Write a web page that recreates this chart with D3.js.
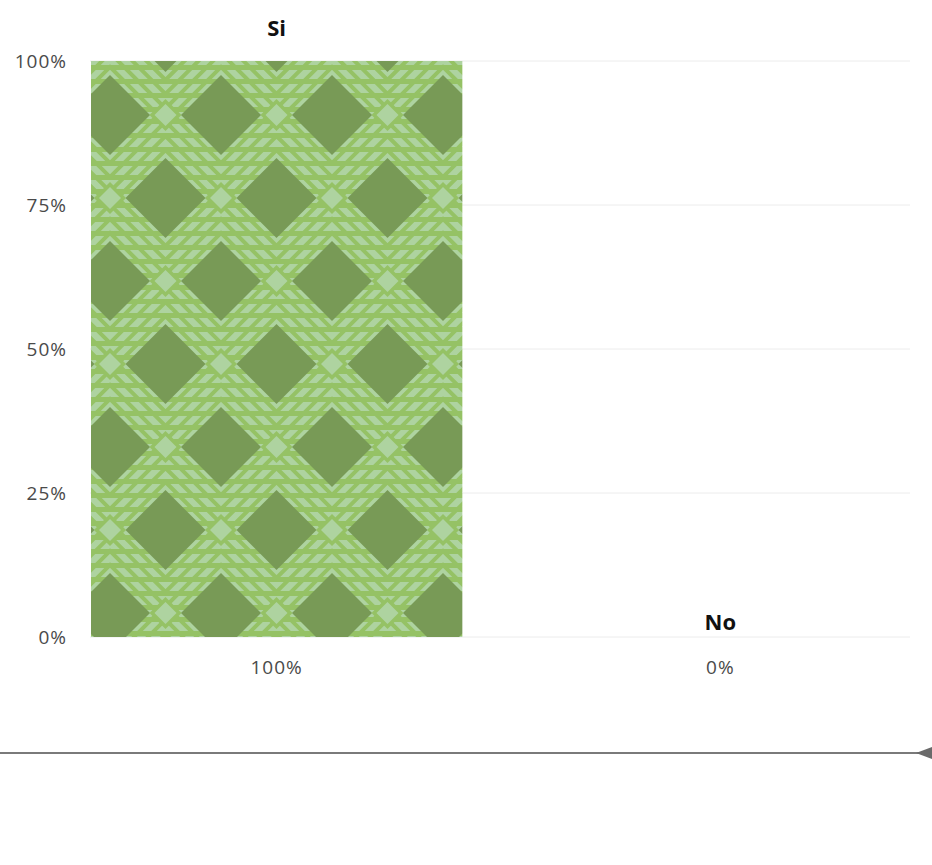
<!DOCTYPE html>
<html>
<head>
<meta charset="utf-8">
<script src="https://cdn.jsdelivr.net/npm/d3@7/dist/d3.min.js"></script>
<style>
  html, body { margin: 0; padding: 0; background: #ffffff; }
  svg { display: block; }
  text { font-family: "Open Sans", "Lato", sans-serif; }
</style>
</head>
<body>
<svg id="chart" width="932" height="865"></svg>
<script>
// Answers and their share of responses
const categories = ["Si", "No"];
const values = [100, 0];
const valueLabels = ["100%", "0%"];
const yTicks = [0, 25, 50, 75, 100];
const yTickLabels = ["0%", "25%", "50%", "75%", "100%"];

const svg = d3.select("#chart");
const plot = { left: 90, right: 910, top: 61, bottom: 637 };

const x = d3.scaleBand()
  .domain(categories)
  .range([91, 906])
  .paddingInner(0.163)
  .paddingOuter(0);

const y = d3.scaleLinear()
  .domain([0, 100])
  .range([plot.bottom, plot.top]);

// Woven green pattern used as the bar fill
const dark = "#789a56", mid = "#95c265", light = "#aed3a0";
const tw = 111, th = 166;
const defs = svg.append("defs");
const pat = defs.append("pattern")
  .attr("id", "weave")
  .attr("patternUnits", "userSpaceOnUse")
  .attr("x", -1).attr("y", 115)
  .attr("width", tw).attr("height", th);

pat.append("rect").attr("width", tw).attr("height", th).attr("fill", mid);
// horizontal light bands
for (let yy = -5; yy < th; yy += 14) {
  pat.append("rect").attr("x", 0).attr("y", yy).attr("width", tw).attr("height", 9).attr("fill", light);
}
const diamond = (cx, cy, r) => `M${cx},${cy - r}L${cx + r},${cy}L${cx},${cy + r}L${cx - r},${cy}Z`;
const bigCenters = [[0, 0], [tw, 0], [tw / 2, th / 2], [0, th], [tw, th]];
const smallCenters = [[tw / 2, 0], [0, th / 2], [tw, th / 2], [tw / 2, th]];
// diagonal breaks around each large diamond
bigCenters.forEach(([cx, cy]) => {
  [48, 62].forEach(r => {
    pat.append("path").attr("d", diamond(cx, cy, r))
      .attr("fill", "none").attr("stroke", mid).attr("stroke-width", 4);
  });
});
smallCenters.forEach(([cx, cy]) => {
  pat.append("path").attr("d", diamond(cx, cy, 16)).attr("fill", mid);
  pat.append("path").attr("d", diamond(cx, cy, 11)).attr("fill", light);
});
bigCenters.forEach(([cx, cy]) => {
  pat.append("path").attr("d", diamond(cx, cy, 40)).attr("fill", dark);
});

// gridlines
svg.append("g")
  .selectAll("line")
  .data(yTicks)
  .join("line")
  .attr("x1", plot.left).attr("x2", plot.right)
  .attr("y1", d => y(d)).attr("y2", d => y(d))
  .attr("stroke", "#ececec").attr("stroke-width", 1);

// y axis labels
const yAxis = d3.axisLeft(y)
  .tickValues(yTicks)
  .tickFormat((d, i) => yTickLabels[i])
  .tickSize(0)
  .tickPadding(0);
const gy = svg.append("g").attr("transform", "translate(67,0)").call(yAxis);
gy.select(".domain").remove();
gy.selectAll("text")
  .attr("font-size", 19)
  .attr("letter-spacing", 1)
  .attr("fill", "#4a4a4a")
  .attr("font-family", "'Open Sans', Lato, sans-serif");

// bars
svg.append("g")
  .selectAll("rect")
  .data(categories)
  .join("rect")
  .attr("x", d => x(d))
  .attr("width", x.bandwidth())
  .attr("y", (d, i) => y(values[i]))
  .attr("height", (d, i) => y(0) - y(values[i]))
  .attr("fill", "url(#weave)");

// category labels above the bars
svg.append("g")
  .selectAll("text")
  .data(categories)
  .join("text")
  .attr("x", d => x(d) + x.bandwidth() / 2)
  .attr("y", (d, i) => y(values[i]) - (values[i] > 0 ? 25 : 7))
  .attr("text-anchor", "middle")
  .attr("font-size", 22)
  .attr("font-weight", "bold")
  .attr("fill", "#111")
  .text(d => d);

// value labels under the axis
svg.append("g")
  .selectAll("text")
  .data(categories)
  .join("text")
  .attr("x", d => x(d) + x.bandwidth() / 2)
  .attr("y", 674)
  .attr("text-anchor", "middle")
  .attr("font-size", 19)
  .attr("letter-spacing", 1)
  .attr("fill", "#4a4a4a")
  .text((d, i) => valueLabels[i]);

// slider rule at the bottom
svg.append("line")
  .attr("x1", 0).attr("x2", 922)
  .attr("y1", 753).attr("y2", 753)
  .attr("stroke", "#7a7a7a").attr("stroke-width", 2);
svg.append("path")
  .attr("d", "M916,753L932,747L932,759Z")
  .attr("fill", "#6a6a6a");
</script>
</body>
</html>
